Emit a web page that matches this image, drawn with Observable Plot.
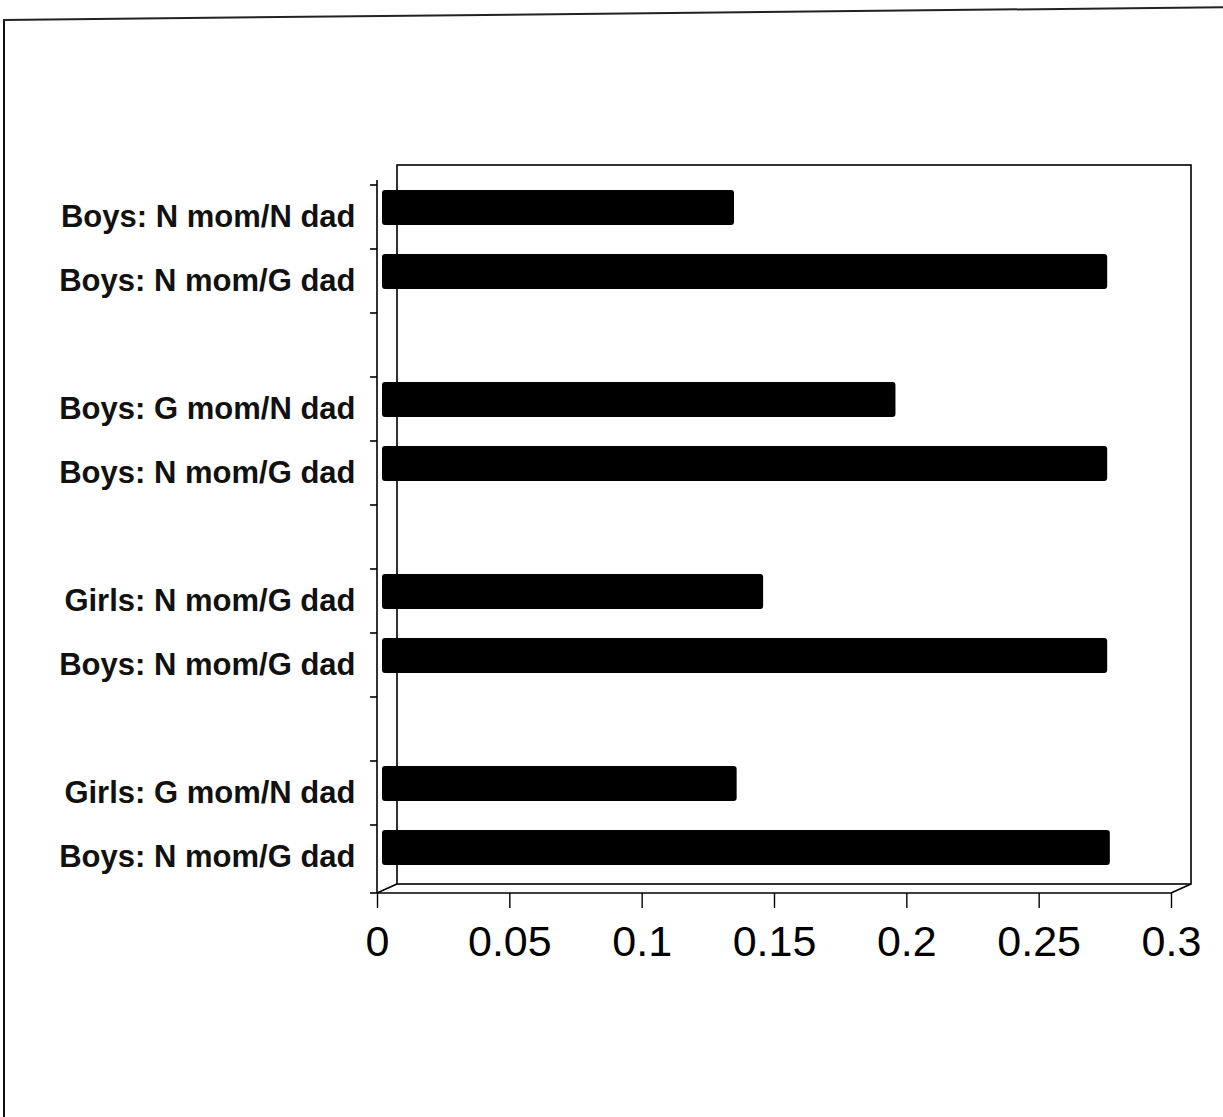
<!DOCTYPE html>
<html>
<head>
<meta charset="utf-8">
<script src="https://cdn.jsdelivr.net/npm/d3@7"></script>
<script src="https://cdn.jsdelivr.net/npm/@observablehq/plot@0.6"></script>
<style>
  html, body { margin: 0; padding: 0; background: #fff; }
  body { width: 1223px; height: 1117px; position: relative; overflow: hidden; font-family: "Liberation Sans", Arial, sans-serif; }
  #leftEdge { position: absolute; left: 3px; top: 19px; width: 0; height: 1120px; border-left: 2px solid #111; }
  #topEdge { position: absolute; left: 3px; top: 19px; width: 1240px; height: 0; border-top: 2px solid #222; transform: rotate(-0.6deg); transform-origin: 0 0; }
  #chart { position: absolute; left: 0; top: 0; }
  #chart svg { overflow: visible; }
</style>
</head>
<body>
<div id="leftEdge"></div>
<div id="topEdge"></div>
<div id="chart"></div>
<script>
// ---- data ----
const categories = [
  "Boys: N mom/N dad",
  "Boys: N mom/G dad",
  "Boys: G mom/N dad",
  "Boys: N mom/G dad",
  "Girls: N mom/G dad",
  "Boys: N mom/G dad",
  "Girls: G mom/N dad",
  "Boys: N mom/G dad"
];
const values = [0.133, 0.274, 0.194, 0.274, 0.144, 0.274, 0.134, 0.275];
const groupSizes = [2, 2, 2, 2];
const xTicks = [0, 0.05, 0.1, 0.15, 0.2, 0.25, 0.3];
const xDomain = [0, 0.3];

// ---- build rows and slot domain (empty slot between groups) ----
const rows = categories.map((label, i) => ({ key: "bar" + i, label, value: values[i] }));
const slots = [];
let k = 0;
groupSizes.forEach((n, g) => {
  for (let j = 0; j < n; j++) slots.push(rows[k++].key);
  if (g < groupSizes.length - 1) slots.push("gap" + g);
});

const depthX = 20, depthY = -9, wallRise = -15;

function frame3d(index, scales, values, dimensions) {
  const g = d3.create("svg:g").attr("stroke", "#000").attr("stroke-width", 1.6).attr("fill", "none");
  const x0 = scales.x(xDomain[0]), x1 = scales.x(xDomain[1]);
  const yTop = dimensions.marginTop;
  const yBot = dimensions.height - dimensions.marginBottom;
  // back wall
  g.append("rect").attr("x", x0 + depthX).attr("y", yTop + wallRise)
    .attr("width", x1 - x0).attr("height", (yBot + depthY) - (yTop + wallRise));
  // left (front) axis line
  g.append("line").attr("x1", x0).attr("x2", x0).attr("y1", yTop).attr("y2", yBot);
  // front floor edge
  g.append("line").attr("x1", x0).attr("x2", x1).attr("y1", yBot).attr("y2", yBot);
  // floor depth diagonals
  g.append("line").attr("x1", x0).attr("y1", yBot).attr("x2", x0 + depthX).attr("y2", yBot + depthY);
  g.append("line").attr("x1", x1).attr("y1", yBot).attr("x2", x1 + depthX).attr("y2", yBot + depthY);
  // y ticks at band boundaries
  const bounds = slots.map(s => scales.y(s)).concat([yBot]);
  bounds.forEach(y => g.append("line").attr("x1", x0 - 7).attr("x2", x0).attr("y1", y).attr("y2", y));
  return g.node();
}

const chart = Plot.plot({
  width: 1223,
  height: 1117,
  marginLeft: 377,
  marginRight: 52,
  marginTop: 180,
  marginBottom: 224,
  style: { fontFamily: "'Liberation Sans', Arial, sans-serif", background: "transparent", color: "#000" },
  x: { domain: xDomain, ticks: xTicks },
  y: { type: "band", domain: slots, padding: 0, axis: null },
  marks: [
    frame3d,
    Plot.barX(rows, { x: "value", y: "key", fill: "#000", insetTop: 14, insetBottom: 15, dx: 5, dy: -9, rx: 3 }),
    Plot.axisX({ ticks: xTicks, tickFormat: d => String(d), tickSize: 15, tickPadding: 17, fontSize: 43, label: null, stroke: "#000", strokeWidth: 1.4 }),
    Plot.text(rows, { y: "key", text: "label", frameAnchor: "left", textAnchor: "end", dx: -22, dy: 0, fontWeight: "bold", fontSize: 31, fill: "#111", style: "letter-spacing:1.2px" })
  ]
});
document.getElementById("chart").appendChild(chart);
</script>
</body>
</html>
